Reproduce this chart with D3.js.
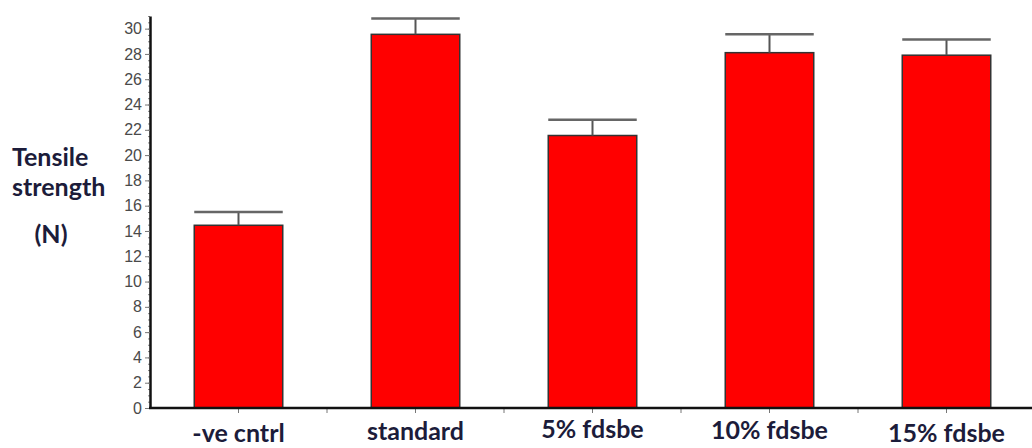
<!DOCTYPE html>
<html>
<head>
<meta charset="utf-8">
<script src="https://cdn.jsdelivr.net/npm/d3@7"></script>
<style>
  body { margin: 0; background: #fff; }
  .tick text { font-family: "Liberation Sans", Arial, sans-serif; font-size: 16px; fill: #4a4a4a; }
  .cat { font-family: Lato, "Open Sans", sans-serif; font-size: 25px; font-weight: 700; fill: #1c1c3a; }
  .ytitle { font-family: Lato, "Open Sans", sans-serif; font-size: 25px; font-weight: 700; fill: #1c1c3a; }
</style>
</head>
<body>
<svg id="chart" width="1032" height="448"></svg>
<script>
const categories = ["-ve cntrl", "standard", "5% fdsbe", "10% fdsbe", "15% fdsbe"];
const values = [14.45, 29.55, 21.55, 28.1, 27.9];
const errors = [1.05, 1.25, 1.25, 1.45, 1.25];
const yTicks = [0, 2, 4, 6, 8, 10, 12, 14, 16, 18, 20, 22, 24, 26, 28, 30];
const titleLines = ["Tensile", "strength", "(N)"];
// label baselines wobble a little in the original
const labelShift = [442, 440, 438, 439, 442];

const svg = d3.select("#chart");
const x0 = 150, y0 = 408;

const x = d3.scaleBand().domain(categories).range([x0, 1035])
    .paddingInner(0.5).paddingOuter(0.25);
const y = d3.scaleLinear().domain([0, 31]).range([y0, 16]);

// bars
svg.selectAll(".bar")
    .data(categories)
    .join("rect")
    .attr("class", "bar")
    .attr("x", d => x(d))
    .attr("y", (d, i) => y(values[i]))
    .attr("width", x.bandwidth())
    .attr("height", (d, i) => y0 - y(values[i]))
    .attr("fill", "#ff0000")
    .attr("stroke", "#333")
    .attr("stroke-width", 1.5);

// error bars
const eb = svg.selectAll(".err").data(categories).join("g").attr("class", "err");
eb.append("line")
    .attr("x1", d => x(d) + x.bandwidth() / 2)
    .attr("x2", d => x(d) + x.bandwidth() / 2)
    .attr("y1", (d, i) => y(values[i]))
    .attr("y2", (d, i) => y(values[i] + errors[i]))
    .attr("stroke", "#555").attr("stroke-width", 2);
eb.append("line")
    .attr("x1", d => x(d))
    .attr("x2", d => x(d) + x.bandwidth())
    .attr("y1", (d, i) => y(values[i] + errors[i]))
    .attr("y2", (d, i) => y(values[i] + errors[i]))
    .attr("stroke", "#666").attr("stroke-width", 2.5);

// y axis minor ticks
svg.append("g")
    .attr("transform", `translate(${x0},0)`)
    .call(d3.axisLeft(y).ticks(62).tickSize(2).tickFormat(""))
    .call(g => g.select(".domain").remove())
    .selectAll("line").attr("stroke", "#888");

// y axis
svg.append("g")
    .attr("transform", `translate(${x0},0)`)
    .call(d3.axisLeft(y).tickValues(yTicks).tickSize(5).tickPadding(3).tickSizeOuter(0))
    .call(g => g.select(".domain").attr("stroke", "#111").attr("stroke-width", 2.5))
    .call(g => g.selectAll(".tick line").attr("stroke", "#777"));

// x axis ticks at centres and between bars
const mids = categories.map(d => x(d) + x.bandwidth() / 2);
const xt = mids.concat(mids.slice(0, -1).map((m, i) => (m + mids[i + 1]) / 2));
svg.append("g").selectAll("line")
    .data(xt).join("line")
    .attr("x1", d => d).attr("x2", d => d)
    .attr("y1", y0).attr("y2", y0 + 5)
    .attr("stroke", "#777");

svg.append("line")
    .attr("x1", x0 - 1).attr("x2", 1032)
    .attr("y1", y0).attr("y2", y0)
    .attr("stroke", "#111").attr("stroke-width", 2.5);

// category labels
svg.selectAll(".cat")
    .data(categories)
    .join("text")
    .attr("class", "cat")
    .attr("x", d => x(d) + x.bandwidth() / 2)
    .attr("y", (d, i) => labelShift[i])
    .attr("text-anchor", "middle")
    .text(d => d);

// y title
svg.selectAll(".ytitle")
    .data(titleLines)
    .join("text")
    .attr("class", "ytitle")
    .attr("x", (d, i) => i == 2 ? 51 : 12)
    .attr("y", (d, i) => [166, 196, 243][i])
    .attr("text-anchor", (d, i) => i == 2 ? "middle" : "start")
    .text(d => d);
</script>
</body>
</html>
